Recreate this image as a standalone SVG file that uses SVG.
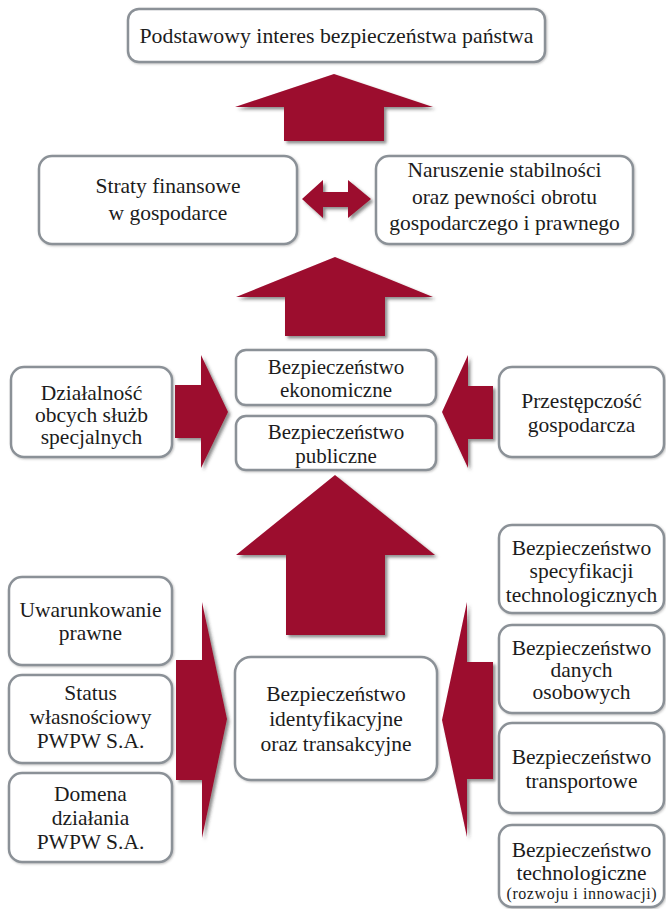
<svg xmlns="http://www.w3.org/2000/svg" width="666" height="909" viewBox="0 0 666 909">
<defs>
<filter id="sh" x="-10%" y="-10%" width="130%" height="130%">
<feDropShadow dx="2.5" dy="2.5" stdDeviation="1.8" flood-color="#333" flood-opacity="0.55"/>
</filter>
<filter id="bs" x="-5%" y="-5%" width="115%" height="115%">
<feDropShadow dx="1" dy="1" stdDeviation="1" flood-color="#666" flood-opacity="0.4"/>
</filter>
<style>
.box{fill:#fff;stroke:#8b9197;stroke-width:2.5;filter:url(#bs)}
.arr{fill:#9c0c2f;filter:url(#sh)}
text{font-family:"Liberation Serif","Times New Roman",serif;font-size:21.5px;fill:#1c1c1c;text-anchor:middle}
.md{font-size:21px}
.sm{font-size:16px}
</style>
</defs>
<rect width="666" height="909" fill="#fff"/>
<g id="connectors">
<polygon class="arr" points="334,74 433,107 384,107 384,141 284,141 284,107 235,107"/>
<polygon class="arr" points="302,199 323,180 323,192 348,192 348,180 371,199 348,218 348,207 323,207 323,218"/>
<polygon class="arr" points="335,257 433,297 385,297 385,336 285,336 285,297 236,297"/>
<polygon class="arr" points="175,385 201,385 201,355 228,412 201,468 201,438 175,438"/>
<polygon class="arr" points="493,386 468,386 468,355 442,412 468,468 468,439 493,439"/>
<polygon class="arr" points="335,475 435,555 385,555 385,635 286,635 286,555 236,555"/>
<polygon class="arr" points="176,660 202,660 202,602 227,719 202,838 202,780 176,780"/>
<polygon class="arr" points="493,662 467,662 467,602 442,720 467,837 467,779 493,779"/>
</g>
<g id="n-podstawowy">
<rect class="box" x="128" y="9" width="417" height="53" rx="11"/>
<text x="336.5" y="43" style="font-size:21.8px">Podstawowy interes bezpieczeństwa państwa</text>
</g>
<g id="n-straty">
<rect class="box" x="39" y="156" width="258" height="88" rx="13"/>
<text x="168" y="193">Straty finansowe</text>
<text x="168" y="220">w gospodarce</text>
</g>
<g id="n-naruszenie">
<rect class="box" x="376" y="156" width="257" height="88" rx="13"/>
<text x="504.5" y="177">Naruszenie stabilności</text>
<text x="504.5" y="204">oraz pewności obrotu</text>
<text x="504.5" y="230">gospodarczego i prawnego</text>
</g>
<g id="n-ekonomiczne">
<rect class="box" x="236" y="350" width="200" height="55" rx="10"/>
<text class="md" x="336" y="374">Bezpieczeństwo</text>
<text class="md" x="336" y="397">ekonomiczne</text>
</g>
<g id="n-publiczne">
<rect class="box" x="236" y="416" width="200" height="54" rx="10"/>
<text class="md" x="336" y="439">Bezpieczeństwo</text>
<text class="md" x="336" y="463">publiczne</text>
</g>
<g id="n-dzialalnosc">
<rect class="box" x="11" y="367" width="161" height="90" rx="13"/>
<text x="91.5" y="400">Działalność</text>
<text x="91.5" y="422">obcych służb</text>
<text x="91.5" y="444">specjalnych</text>
</g>
<g id="n-przestepczosc">
<rect class="box" x="499" y="367" width="165" height="90" rx="13"/>
<text x="581.5" y="408">Przestępczość</text>
<text x="581.5" y="432">gospodarcza</text>
</g>
<g id="n-uwarunkowanie">
<rect class="box" x="9" y="577" width="163" height="88" rx="13"/>
<text x="90.5" y="617">Uwarunkowanie</text>
<text x="90.5" y="640">prawne</text>
</g>
<g id="n-status">
<rect class="box" x="9" y="675" width="163" height="88" rx="13"/>
<text x="90.5" y="700">Status</text>
<text x="90.5" y="724">własnościowy</text>
<text x="90.5" y="748">PWPW S.A.</text>
</g>
<g id="n-domena">
<rect class="box" x="9" y="773" width="163" height="89" rx="13"/>
<text x="90.5" y="801">Domena</text>
<text x="90.5" y="825">działania</text>
<text x="90.5" y="849">PWPW S.A.</text>
</g>
<g id="n-identyfikacyjne">
<rect class="box" x="235" y="657" width="202" height="123" rx="16"/>
<text x="336" y="701">Bezpieczeństwo</text>
<text x="336" y="726">identyfikacyjne</text>
<text x="336" y="751">oraz transakcyjne</text>
</g>
<g id="n-specyfikacji">
<rect class="box" x="499" y="525" width="165" height="88" rx="13"/>
<text x="581.5" y="555">Bezpieczeństwo</text>
<text x="581.5" y="578">specyfikacji</text>
<text x="581.5" y="602">technologicznych</text>
</g>
<g id="n-danych">
<rect class="box" x="499" y="625" width="165" height="88" rx="13"/>
<text x="581.5" y="655">Bezpieczeństwo</text>
<text x="581.5" y="677">danych</text>
<text x="581.5" y="699">osobowych</text>
</g>
<g id="n-transportowe">
<rect class="box" x="499" y="723" width="165" height="90" rx="13"/>
<text x="581.5" y="764">Bezpieczeństwo</text>
<text x="581.5" y="788">transportowe</text>
</g>
<g id="n-technologiczne">
<rect class="box" x="499" y="825" width="165" height="82" rx="13"/>
<text x="581.5" y="857">Bezpieczeństwo</text>
<text x="581.5" y="880">technologiczne</text>
<text class="sm" x="581.5" y="899" textLength="150" lengthAdjust="spacing">(rozwoju i innowacji)</text>
</g>
</svg>
